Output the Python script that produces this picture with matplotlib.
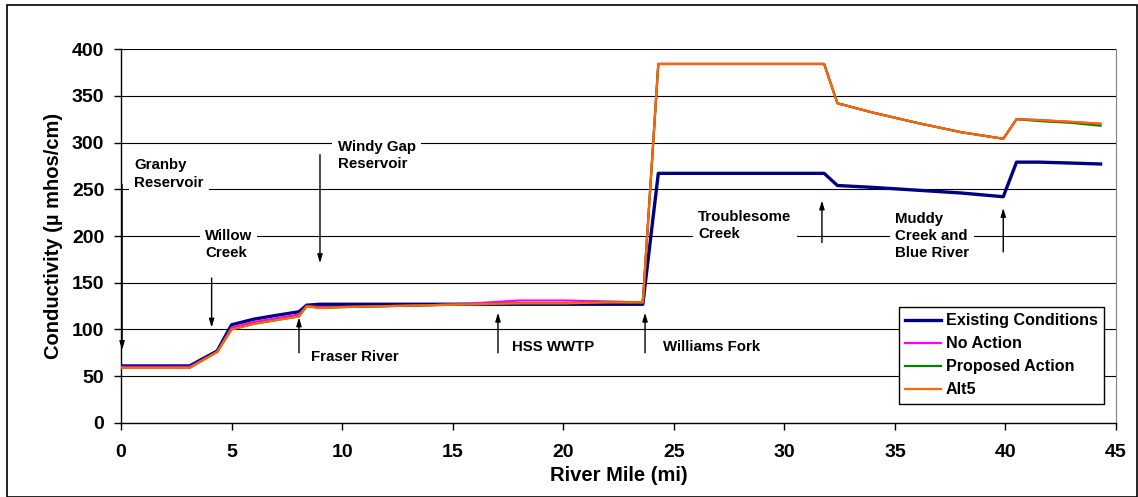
import matplotlib
matplotlib.use("Agg")
import matplotlib.pyplot as plt
from matplotlib.patches import Rectangle

plt.rcParams['font.family'] = ['Liberation Sans', 'DejaVu Sans']
plt.rcParams['font.weight'] = 'bold'

# river mile stations
river_mile = [0, 3.1, 4.35, 5.0, 6.0, 7.0, 8.05, 8.4, 9.0, 10, 12, 14, 16, 18, 20, 22,
              23.6, 24.3, 28, 31.8, 32.4, 34, 36, 38, 39.9, 40.5, 41.5, 43, 44.3]

existing = [61, 61, 77, 105, 111, 115, 119, 126, 127, 127, 127, 127, 127, 127, 127, 127,
            127, 267, 267, 267, 254, 252, 249, 246, 242, 279, 279, 278, 277]
no_action = [60, 60, 76, 102, 108, 112, 116, 125, 124, 124, 125, 126, 128, 131, 131, 130,
             129, 384, 384, 384, 342, 332, 321, 311, 304, 325, 324, 322, 320]
proposed = [59, 59, 76, 100, 106, 110, 114, 125, 123, 124, 125, 126, 127, 128, 128, 129,
            129, 384, 384, 384, 342, 332, 321, 311, 304, 325, 323, 321, 318]
alt5 = [59, 59, 76, 100, 106, 110, 114, 125, 123, 124, 125, 126, 127, 128, 128, 129,
        129, 384, 384, 384, 342, 332, 321, 311, 304, 325, 324, 322, 320]

series_names = ["Existing Conditions", "No Action", "Proposed Action", "Alt5"]
series_vals = [existing, no_action, proposed, alt5]
series_colors = ["#000080", "#FF00FF", "#008000", "#FF6600"]
series_lw = [2.4, 1.6, 1.6, 1.6]

# annotations: label, arrow x, arrow tail y, arrow head y, text x, text y, va
notes = [
    ("Granby\nReservoir", 0.05, 255, 78, 0.6, 283, "top"),
    ("Willow\nCreek", 4.1, 155, 102, 3.8, 208, "top"),
    ("Windy Gap\nReservoir", 9.0, 287, 171, 9.8, 303, "top"),
    ("Fraser River", 8.05, 75, 113, 8.6, 71, "center"),
    ("HSS WWTP", 17.05, 75, 118, 17.7, 81, "center"),
    ("Williams Fork", 23.7, 75, 118, 24.5, 81, "center"),
    ("Troublesome\nCreek", 31.7, 193, 238, 26.1, 228, "top"),
    ("Muddy\nCreek and\nBlue River", 39.9, 183, 230, 35.0, 226, "top"),
]

fig = plt.figure(figsize=(11.38, 4.97), dpi=100)
ax = fig.add_axes([0.1063, 0.1489, 0.9807 - 0.1063, 0.9014 - 0.1489])

for y in range(50, 401, 50):
    ax.axhline(y, color="black", lw=0.8, zorder=1)

for name, vals, c, lw in zip(series_names, series_vals, series_colors, series_lw):
    ax.plot(river_mile, vals, color=c, lw=lw, label=name, zorder=3)

for label, ax_x, y0, y1, tx, ty, va in notes:
    ax.annotate("", xy=(ax_x, y1), xytext=(ax_x, y0),
                arrowprops=dict(arrowstyle="-|>,head_length=0.5,head_width=0.15",
                                color="black", lw=1.0, shrinkA=0, shrinkB=0),
                zorder=4)
    ax.text(tx, ty, label, fontsize=10.8, fontweight="bold", va=va, ha="left",
            linespacing=1.3, zorder=5,
            bbox=dict(boxstyle="square,pad=0.35", facecolor="white", edgecolor="none"))

ax.set_xlim(0, 45)
ax.set_ylim(0, 400)
ax.set_xticks(range(0, 46, 5))
ax.set_yticks(range(0, 401, 50))
ax.tick_params(axis="both", direction="out", length=5, width=1, labelsize=14)
ax.tick_params(axis="x", pad=10)
ax.tick_params(axis="y", pad=7)
for lab in ax.get_xticklabels() + ax.get_yticklabels():
    lab.set_fontweight("bold")
ax.spines["top"].set_visible(False)
ax.spines["right"].set_color("#808080")
ax.spines["left"].set_linewidth(1.0)
ax.spines["bottom"].set_linewidth(1.0)

ax.set_xlabel("River Mile (mi)", fontsize=14.5, fontweight="bold", labelpad=4)
ax.set_ylabel("Conductivity (\u00b5 mhos/cm)", fontsize=14.5, fontweight="bold", labelpad=6)

leg = ax.legend(loc="lower right", bbox_to_anchor=(0.988, 0.051), borderaxespad=0,
                fontsize=11.6, fancybox=False, framealpha=1, edgecolor="black",
                handlelength=2.2, handletextpad=0.3, labelspacing=0.5, borderpad=0.4)
leg.get_frame().set_linewidth(1.0)
for t in leg.get_texts():
    t.set_fontweight("bold")
leg.set_zorder(6)

fig.patches.append(Rectangle((0.006, 0.0), 0.993, 0.99, transform=fig.transFigure,
                             fill=False, edgecolor="black", lw=1.2))

fig.savefig("out.png", dpi=100)
